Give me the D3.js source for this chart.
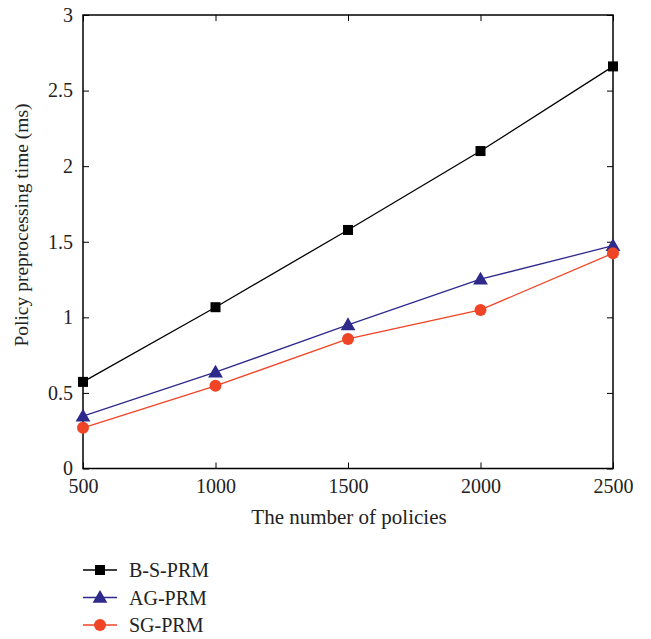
<!DOCTYPE html>
<html>
<head>
<meta charset="utf-8">
<script src="https://cdn.jsdelivr.net/npm/d3@7"></script>
<style>
  body { margin: 0; background: #fff; }
  text { font-family: 'Liberation Serif', 'DejaVu Serif', serif; fill: #222; }
</style>
</head>
<body>
<script>
// data
const policies = [500, 1000, 1500, 2000, 2500]
const bsPrm = [0.573, 1.067, 1.578, 2.10, 2.66]
const agPrm = [0.346, 0.637, 0.95, 1.252, 1.474]
const sgPrm = [0.269, 0.547, 0.857, 1.049, 1.424]
const yTicks = [0, 0.5, 1, 1.5, 2, 2.5, 3]

const w = 651
const h = 639
const plotLeft = 83
const plotRight = 613
const plotTop = 15
const plotBottom = 468.5

const series = [
  { name: 'B-S-PRM', values: bsPrm, color: '#000000', marker: 'square' },
  { name: 'AG-PRM', values: agPrm, color: '#2e2a8c', marker: 'triangle' },
  { name: 'SG-PRM', values: sgPrm, color: '#f04426', marker: 'circle' }
]

const svg = d3.select('body').append('svg')
  .attr('width', w)
  .attr('height', h)

const xScale = d3.scaleLinear().domain([500, 2500]).range([plotLeft, plotRight])
const yScale = d3.scaleLinear().domain([0, 3]).range([plotBottom, plotTop])

// frame
svg.append('rect')
  .attr('x', plotLeft).attr('y', plotTop)
  .attr('width', plotRight - plotLeft).attr('height', plotBottom - plotTop)
  .attr('fill', 'none').attr('stroke', '#000').attr('stroke-width', 1.5)

// axes with inner ticks
const xAxis = d3.axisBottom(xScale).tickValues(policies).tickSize(-6).tickPadding(10).tickFormat(d3.format('d'))
const yAxis = d3.axisLeft(yScale).tickValues(yTicks).tickSize(-6).tickPadding(10).tickFormat(d => d)

svg.append('g').attr('transform', 'translate(0,' + plotBottom + ')').call(xAxis)
svg.append('g').attr('transform', 'translate(' + plotLeft + ',0)').call(yAxis)
svg.append('g').attr('transform', 'translate(0,' + plotTop + ')')
  .call(d3.axisTop(xScale).tickValues(policies).tickSize(-6).tickFormat(''))
svg.append('g').attr('transform', 'translate(' + plotRight + ',0)')
  .call(d3.axisRight(yScale).tickValues(yTicks).tickSize(-6).tickFormat(''))

svg.selectAll('.domain').remove()
svg.selectAll('.tick line').attr('stroke', '#000').attr('stroke-width', 1)
svg.selectAll('.tick text').attr('font-size', 20).attr('fill', '#222')
  .style('font-family', "'Liberation Serif', 'DejaVu Serif', serif")

// axis titles
svg.append('text')
  .attr('x', 349).attr('y', 524)
  .attr('text-anchor', 'middle').attr('font-size', 21)
  .text('The number of policies')

svg.append('text')
  .attr('transform', 'translate(28,225) rotate(-90)')
  .attr('text-anchor', 'middle').attr('font-size', 19.5)
  .text('Policy preprocessing time (ms)')

function drawMarker (g, type, color, x, y) {
  if (type === 'square') {
    g.append('rect').attr('x', x - 5).attr('y', y - 5).attr('width', 10).attr('height', 10).attr('fill', color)
  } else if (type === 'triangle') {
    g.append('path').attr('d', d3.symbol(d3.symbolTriangle, 95)()).attr('transform', 'translate(' + x + ',' + (y + 1) + ')').attr('fill', color)
  } else {
    g.append('circle').attr('cx', x).attr('cy', y).attr('r', 6).attr('fill', color)
  }
}

const lineFn = d3.line()
  .x((d, i) => xScale(policies[i]))
  .y(d => yScale(d))

series.forEach(s => {
  const g = svg.append('g')
  g.append('path')
    .attr('d', lineFn(s.values))
    .attr('stroke', s.color)
    .attr('stroke-width', 1.3)
    .attr('fill', 'none')
  s.values.forEach((v, i) => drawMarker(g, s.marker, s.color, xScale(policies[i]), yScale(v)))
})

// legend
const legend = svg.append('g')
series.forEach((s, i) => {
  const y = 570 + i * 27.5
  const g = legend.append('g')
  g.append('line').attr('x1', 83).attr('x2', 117).attr('y1', y).attr('y2', y)
    .attr('stroke', s.color).attr('stroke-width', 1.3)
  drawMarker(g, s.marker, s.color, 100, y)
  g.append('text').attr('x', 129).attr('y', y + 7).attr('font-size', 20).text(s.name)
})
</script>
</body>
</html>
